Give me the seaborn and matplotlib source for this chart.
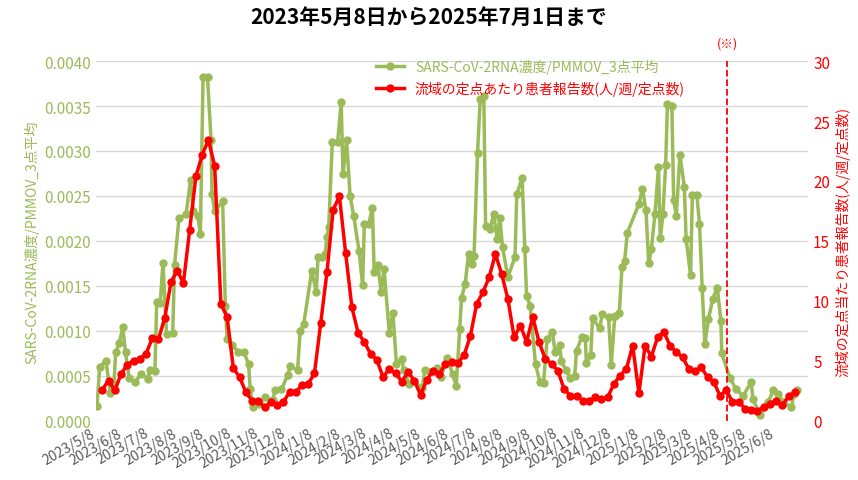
import matplotlib
matplotlib.use("Agg")
import matplotlib.pyplot as plt
import numpy as np
import pandas as pd
import seaborn as sns

plt.rcParams["font.family"] = "Noto Sans CJK JP"

START = pd.Timestamp("2023-05-08")

# wastewater SARS-CoV-2 RNA / PMMoV (days since 2023/5/8, value)
green_days = [0, 3, 10, 15, 19, 21, 25, 29, 32, 36, 43, 49, 57, 60, 65, 67, 71, 74, 78, 85,
              87, 92, 100, 105, 108, 113, 116, 119, 124, 128, 129, 132, 141, 144, 146, 152, 158,
              165, 170, 172, 175, 182, 189, 197, 200, 207, 214, 217, 225, 228, 232, 241, 246,
              248, 253, 256, 258, 260, 264, 270, 274, 276, 280, 284, 288, 294, 298, 300, 305,
              309, 311, 315, 319, 322, 328, 332, 336, 342, 344, 350, 355, 365, 368, 374, 381,
              386, 393, 399, 403, 407, 409, 413, 417, 421, 423, 427, 430, 434, 436, 441, 445,
              449, 452, 455, 461, 469, 471, 477, 480, 482, 486, 492, 497, 501, 505, 511, 514,
              519, 521, 526, 531, 536, 538, 544, 548, 549, 554, 556, 564, 567, 574, 577, 581,
              586, 589, 592, 595, 608, 612, 616, 619, 622, 626, 630, 632, 635, 638, 640, 645,
              647, 650, 654, 659, 661, 666, 668, 673, 676, 679, 682, 686, 691, 696, 700, 701,
              710, 717, 725, 734, 736, 744, 753, 759, 764, 770, 779, 782, 785]
green_vals = [0.165, 0.594, 0.67, 0.31, 0.41, 0.76, 0.87, 1.04, 0.76, 0.48, 0.43, 0.52, 0.47,
              0.57, 0.55, 1.32, 1.31, 1.76, 0.97, 0.98, 1.73, 2.25, 2.30, 2.68, 2.33, 2.28,
              2.08, 3.82, 3.82, 3.12, 2.52, 2.33, 2.44, 1.28, 0.91, 0.84, 0.77, 0.76, 0.63,
              0.35, 0.15, 0.19, 0.26, 0.23, 0.34, 0.35, 0.51, 0.61, 0.56, 1.00, 1.08, 1.67,
              1.43, 1.82, 1.82, 1.85, 2.04, 2.15, 3.10, 3.10, 3.54, 2.74, 3.12, 2.50, 2.28,
              1.89, 1.51, 2.19, 2.19, 2.37, 1.65, 1.73, 1.43, 1.69, 0.98, 1.20, 0.63, 0.69,
              0.57, 0.41, 0.44, 0.37, 0.57, 0.54, 0.59,
              0.49, 0.70, 0.52, 0.39, 1.02, 1.37, 1.52, 1.86, 1.74, 1.83, 2.98, 3.58, 3.61,
              2.17, 2.13, 2.30, 2.02, 2.26, 1.93, 1.60, 1.82, 2.52, 2.70, 1.91, 1.39, 1.28,
              0.63, 0.43, 0.42, 0.91, 0.99, 0.76, 0.84, 0.67, 0.56, 0.48, 0.50, 0.78, 0.93,
              0.92, 0.64, 0.73, 1.14, 1.03, 1.19, 1.15, 0.62, 1.17, 1.20, 1.71, 1.78, 2.09,
              2.41, 2.58, 2.34, 1.75, 1.91, 2.30, 2.82, 2.03, 2.30, 2.84, 3.52, 3.50, 2.46,
              2.28, 2.96, 2.60, 2.02, 1.62, 2.51, 2.51, 2.19, 1.48, 0.85, 1.13, 1.36, 1.48,
              1.11, 0.75, 0.48, 0.35, 0.28, 0.43, 0.24, 0.06, 0.21, 0.34, 0.30, 0.21, 0.15,
              0.30, 0.34]

# patients per sentinel site (weekly, from 2023/5/14)
red_vals = [2.61, 3.36, 2.53, 3.91, 4.67, 5.03, 5.17, 5.58, 6.89, 6.83, 8.56, 11.56, 12.53,
            11.5, 15.92, 20.39, 22.17, 23.42, 21.28, 9.75, 8.64, 4.39, 3.64, 2.39, 1.69, 1.69,
            1.14, 1.56, 1.33, 1.56, 2.39, 2.39, 3.0, 3.08, 3.97, 8.14, 12.39, 17.61, 18.72,
            13.97, 9.47, 7.33, 6.56, 5.58, 5.08, 3.64, 4.33, 3.97, 3.28, 4.06, 3.36, 2.17,
            3.42, 4.19, 3.91,
            4.75, 4.89, 4.83, 5.5, 7.1, 9.75, 10.72, 11.97, 13.92, 12.25, 10.17, 6.97, 7.94,
            6.6, 8.64, 6.56, 5.17, 4.75, 4.19, 2.67, 2.11, 2.11, 1.69, 1.69, 1.97, 1.83, 1.97,
            3.08, 3.78, 4.33, 6.28, 2.31, 6.28, 5.36, 6.97, 7.39, 6.28, 5.72, 5.3, 4.33, 4.19,
            4.47, 3.64, 3.22, 2.11, 2.53, 1.61, 1.61, 1.0, 0.94, 0.86, 1.14, 1.42, 1.69, 1.28,
            2.06, 2.39]

GREEN = "#9bbb59"
RED = "#ff0000"

green = pd.DataFrame({"date": START + pd.to_timedelta(green_days, unit="D"),
                      "val": np.array(green_vals) / 1000})
red = pd.DataFrame({"date": pd.date_range("2023-05-14", periods=len(red_vals), freq="7D"),
                    "val": red_vals})

fig = plt.figure(figsize=(8.58, 4.81), dpi=100)
ax = fig.add_axes([0.112, 0.123, 0.83, 0.748])
ax2 = ax.twinx()

sns.lineplot(data=green, x="date", y="val", ax=ax, color=GREEN, lw=2.5, marker="o",
             markersize=6, markeredgewidth=0, label="SARS-CoV-2RNA濃度/PMMOV_3点平均", legend=False)
sns.lineplot(data=red, x="date", y="val", ax=ax2, color=RED, lw=2.5, marker="o",
             markersize=6, markeredgewidth=0, label="流域の定点あたり患者報告数(人/週/定点数)", legend=False)

ax.set_ylim(0, 0.004)
ax.set_yticks(np.arange(0, 0.00401, 0.0005))
ax.yaxis.set_major_formatter(matplotlib.ticker.FormatStrFormatter("%.4f"))
ax2.set_ylim(0, 30)
ax2.set_yticks(range(0, 31, 5))
ax.set_xlim(START - pd.Timedelta(days=1), pd.Timestamp("2025-07-14"))

ax.grid(axis="y", color="#d9d9d9", lw=1)
ax.grid(axis="x", visible=False)
for a in (ax, ax2):
    for s in a.spines.values():
        s.set_visible(False)
    a.tick_params(length=0)

ticks = pd.date_range("2023-05-01", "2025-06-08", freq="MS") + pd.Timedelta(days=7)
ax.set_xticks(ticks)
ax.set_xticklabels([f"{d.year}/{d.month}/{d.day}" for d in ticks], rotation=30, ha="right",
                   fontsize=10, color="#595959")
ax.tick_params(axis="y", labelcolor=GREEN, labelsize=11)
ax2.tick_params(axis="y", labelcolor=RED, labelsize=11)
ax.set_xlabel("")
ax.set_ylabel("SARS-CoV-2RNA濃度/PMMOV_3点平均", color=GREEN, fontsize=10)
ax2.set_ylabel("流域の定点当たり患者報告数(人/週/定点数)", color=RED, fontsize=10)

cut = pd.Timestamp("2025-04-14")
ax2.axvline(cut, color=RED, ls="--", lw=1.3)
ax2.text(cut, 31, "(※)", color=RED, ha="center", va="bottom", fontsize=9)

h1, l1 = ax.get_legend_handles_labels()
h2, l2 = ax2.get_legend_handles_labels()
leg = ax2.legend(h1 + h2, l1 + l2, loc="upper center", bbox_to_anchor=(0.61, 1.04),
                 frameon=False, fontsize=10, handlelength=2)
for t, c in zip(leg.get_texts(), (GREEN, RED)):
    t.set_color(c)

fig.suptitle("2023年5月8日から2025年7月1日まで", fontsize=15, fontweight="bold", y=0.985)
fig.savefig("out.png", dpi=100)
